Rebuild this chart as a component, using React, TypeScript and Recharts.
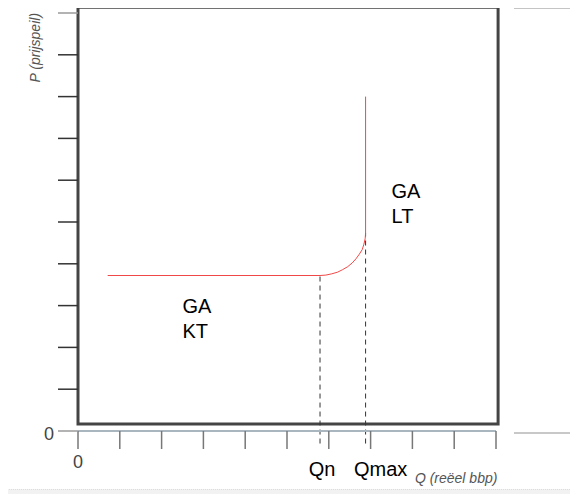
import React from 'react';
import { LineChart, Line, XAxis, YAxis, ReferenceLine, ReferenceArea, ReferenceDot } from 'recharts';

// Aggregate supply curve (GA KT horizontal, bend, GA LT vertical)
const qValues = [0.71, 5.79, 5.93, 6.07, 6.21, 6.33, 6.45, 6.56, 6.65, 6.73, 6.8, 6.84, 6.87, 6.88, 6.88];
const pValues = [3.72, 3.72, 3.73, 3.76, 3.8, 3.86, 3.93, 4.02, 4.12, 4.23, 4.34, 4.47, 4.6, 4.73, 8.0];

const axisTicks = [0, 1, 2, 3, 4, 5, 6, 7, 8, 9, 10];

// Qn and Qmax guide lines: q position and top (on the curve)
const guideNames = ['Qn', 'Qmax'];
const guideQ = [5.79, 6.88];
const guideTopP = [3.72, 4.73];
const guideBottomP = -0.3;

// Text notes (data coordinates)
const noteTexts = [['GA', 'KT'], ['GA', 'LT'], ['Qn'], ['Qmax'], ['P (prijspeil)'], ['Q (reëel bbp)']];
const noteQ = [2.5, 7.5, 5.84, 7.24, -0.91, 8.06];
const noteP = [2.82, 5.57, -1.08, -1.08, 9.17, -1.24];
const noteKind = ['big', 'big', 'bigMid', 'bigMid', 'titleY', 'titleX'];

// Frame around the plot (data coordinates)
const frameQ = [0, 10.05];
const frameP = [0.17, 10.14];

const data = qValues.map((q, i) => ({ q, p: pValues[i] }));

const FONT = '"Liberation Sans", Arial, Helvetica, sans-serif';

const YTick = (props: any) => {
  const { x, y, payload } = props;
  const v = payload.value;
  const grey = v === 0 || v === 10;
  return (
    <g>
      <line x1={x + 4} x2={x + 24} y1={y} y2={y} stroke={grey ? '#9a9a9a' : '#333'} strokeWidth={1.5} />
      {v === 0 ? (
        <text x={x} y={y} dy={9} textAnchor="end" fontSize={18} fill="#444" fontFamily={FONT}>
          0
        </text>
      ) : null}
    </g>
  );
};

const XTick = (props: any) => {
  const { x, y, payload } = props;
  if (payload.value !== 0) return <g />;
  return (
    <text x={x} y={y} dy="0.71em" textAnchor="middle" fontSize={18} fill="#444" fontFamily={FONT}>
      0
    </text>
  );
};

const NoteShape = (props: any) => {
  const { cx, cy, lines, kind } = props;
  if (cx == null || cy == null) return <g />;
  if (kind === 'titleY') {
    return (
      <text
        x={cx}
        y={cy}
        transform={`rotate(-90, ${cx}, ${cy})`}
        textAnchor="middle"
        fontSize={14}
        fontStyle="italic"
        fill="#555"
        fontFamily={FONT}
      >
        {lines[0]}
      </text>
    );
  }
  if (kind === 'titleX') {
    return (
      <text x={cx} y={cy} textAnchor="start" fontSize={14} fontStyle="italic" fill="#555" fontFamily={FONT}>
        {lines[0]}
      </text>
    );
  }
  const anchor = kind === 'bigMid' ? 'middle' : 'start';
  return (
    <text x={cx} y={cy} textAnchor={anchor} fontSize={20} fill="#000" fontFamily={FONT}>
      {lines.map((l: string, i: number) => (
        <tspan key={i} x={cx} dy={i === 0 ? 0 : 24.5}>
          {l}
        </tspan>
      ))}
    </text>
  );
};

export default function App() {
  return (
    <div style={{ position: 'relative', width: 578, height: 494, margin: '-8px 0 0 -8px' }}>
      <LineChart width={578} height={494} data={data} margin={{ top: 13, right: 82, bottom: 0, left: 0 }}>
        <XAxis
          dataKey="q"
          type="number"
          domain={[0, 10]}
          ticks={axisTicks}
          allowDataOverflow
          height={63}
          tickSize={18}
          tickMargin={6}
          tickLine={{ stroke: '#777', strokeWidth: 1.5 }}
          axisLine={{ stroke: '#a9b6c0', strokeWidth: 2 }}
          tick={<XTick />}
          interval={0}
        />
        <YAxis
          type="number"
          domain={[0, 10]}
          ticks={axisTicks}
          allowDataOverflow
          width={78}
          tickSize={20}
          tickMargin={4}
          tickLine={false}
          axisLine={false}
          tick={<YTick />}
          interval={0}
        />
        <ReferenceArea
          x1={frameQ[0]}
          x2={frameQ[1]}
          y1={frameP[0]}
          y2={frameP[1]}
          ifOverflow="visible"
          fill="none"
          fillOpacity={0}
          stroke="#444"
          strokeWidth={3}
        />
        {guideNames.map((name, i) => (
          <ReferenceLine
            key={name}
            segment={[
              { x: guideQ[i], y: guideBottomP },
              { x: guideQ[i], y: guideTopP[i] },
            ]}
            ifOverflow="visible"
            stroke="#333"
            strokeWidth={1}
            strokeDasharray="5 4"
          />
        ))}
        <Line
          dataKey="p"
          type="linear"
          stroke="#f04848"
          strokeWidth={1}
          dot={false}
          activeDot={false}
          isAnimationActive={false}
        />
        {noteTexts.map((lines, i) => (
          <ReferenceDot
            key={'note' + i}
            x={noteQ[i]}
            y={noteP[i]}
            r={1}
            ifOverflow="visible"
            shape={(p: any) => <NoteShape {...p} lines={lines} kind={noteKind[i]} />}
          />
        ))}
      </LineChart>
      <div style={{ position: 'absolute', left: 514, top: 6, width: 64, height: 3, background: '#c4c4c4', zIndex: 5 }} />
      <div style={{ position: 'absolute', left: 514, top: 432, width: 64, height: 2, background: '#c8c8c8', zIndex: 5 }} />
      <div
        style={{
          position: 'absolute',
          left: 0,
          top: 489,
          width: 578,
          height: 5,
          background: '#f2f2f2',
          borderTop: '1px dotted #dcdcdc',
        }}
      />
    </div>
  );
}
